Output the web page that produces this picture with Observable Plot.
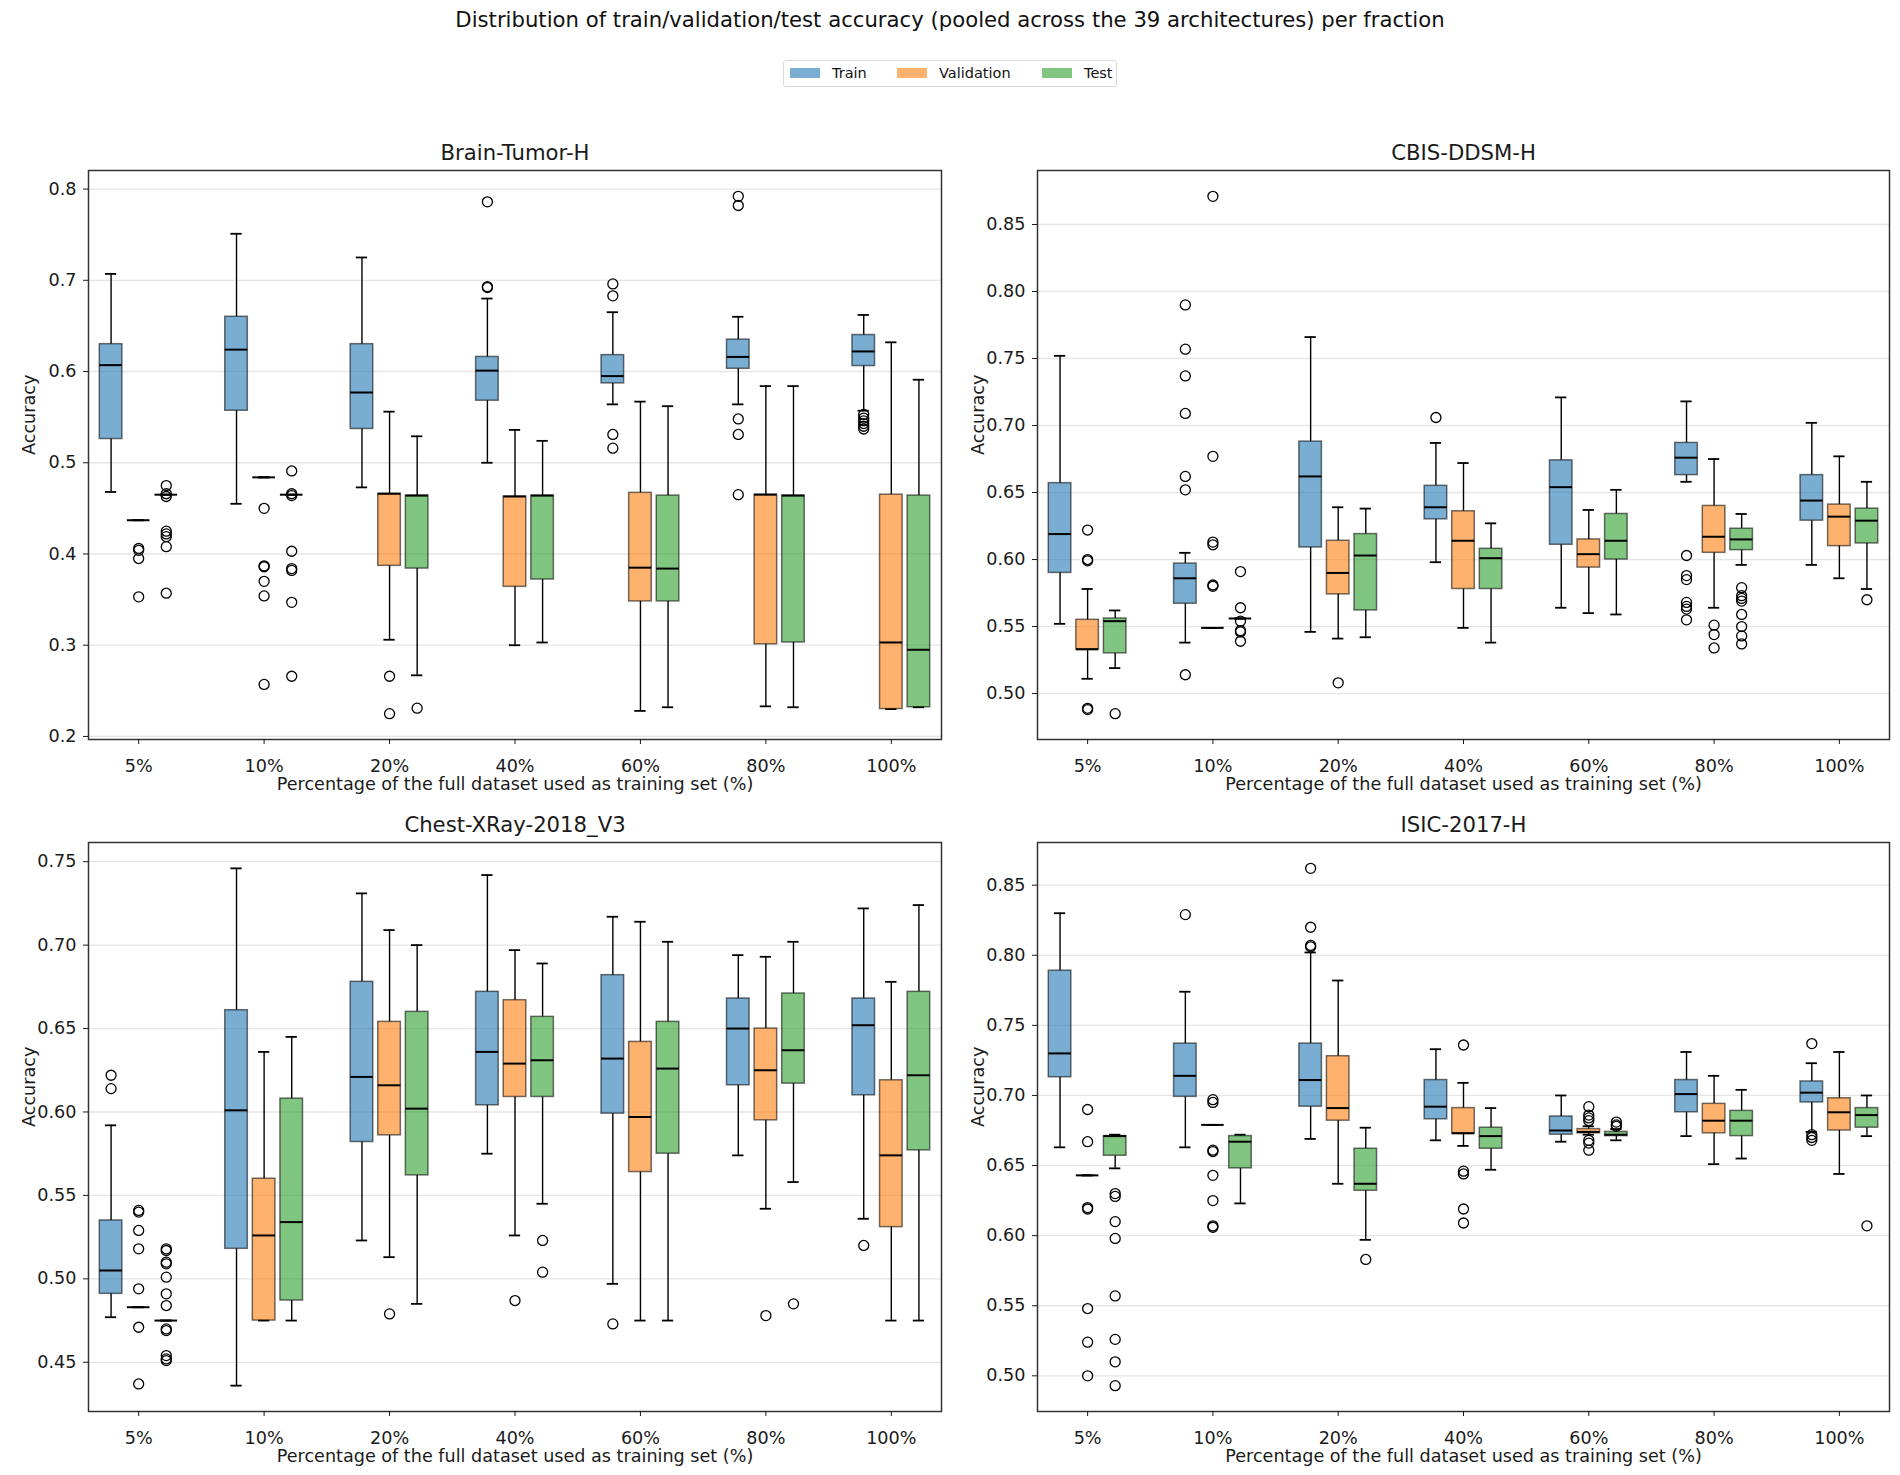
<!DOCTYPE html>
<html><head><meta charset="utf-8">
<script src="https://cdn.jsdelivr.net/npm/d3@7"></script>
<script src="https://cdn.jsdelivr.net/npm/@observablehq/plot@0.6"></script>
<style>
body{margin:0;background:#fff;font-family:"DejaVu Sans",sans-serif;color:#111;}
#root{position:relative;width:1900px;height:1475px;background:#fff;overflow:hidden;}
.panel{position:absolute;}
#title{position:absolute;left:0;width:1900px;top:7px;text-align:center;font-size:21.2px;line-height:26px;}
#legend{position:absolute;left:783px;top:60px;width:332px;height:25px;border:1.5px solid #d9d9d9;border-radius:3px;box-sizing:content-box;font-size:14.5px;}
#legend .it{position:absolute;top:0;height:25px;line-height:25px;}
#legend .sw{display:inline-block;width:30px;height:10px;vertical-align:middle;margin-right:12px;position:relative;top:-1px;}
</style></head><body>
<div id="root">
  <div id="title">Distribution of train/validation/test accuracy (pooled across the 39 architectures) per fraction</div>
  <div id="legend"></div>
</div>
<script>
// ---------- categories ----------
const fractions = ["5%", "10%", "20%", "40%", "60%", "80%", "100%"];
const splits = ["Train", "Validation", "Test"];
const splitColors = ["#1f77b4", "#ff7f0e", "#2ca02c"];
const datasets = ["Brain-Tumor-H", "CBIS-DDSM-H", "Chest-XRay-2018_V3", "ISIC-2017-H"];
const xLabel = "Percentage of the full dataset used as training set (%)";

// ---------- tick labels ----------
const brainTicks = [0.2, 0.3, 0.4, 0.5, 0.6, 0.7, 0.8];
const cbisTicks = [0.50, 0.55, 0.60, 0.65, 0.70, 0.75, 0.80, 0.85];
const chestTicks = [0.45, 0.50, 0.55, 0.60, 0.65, 0.70, 0.75];
const isicTicks = [0.50, 0.55, 0.60, 0.65, 0.70, 0.75, 0.80, 0.85];

// ---------- box stats per fraction: [whiskerLow, q1, median, q3, whiskerHigh] ----------
// Brain-Tumor-H
const brainTrain = [
  [0.468, 0.526, 0.607, 0.630, 0.707],
  [0.455, 0.557, 0.624, 0.660, 0.751],
  [0.473, 0.537, 0.577, 0.630, 0.725],
  [0.500, 0.568, 0.601, 0.616, 0.680],
  [0.564, 0.587, 0.595, 0.618, 0.665],
  [0.564, 0.603, 0.616, 0.635, 0.660],
  [0.557, 0.606, 0.622, 0.640, 0.662]
];
const brainVal = [
  [0.437, 0.437, 0.437, 0.437, 0.437],
  [0.484, 0.484, 0.484, 0.484, 0.484],
  [0.306, 0.387, 0.466, 0.466, 0.556],
  [0.300, 0.364, 0.463, 0.463, 0.536],
  [0.228, 0.348, 0.385, 0.467, 0.567],
  [0.233, 0.301, 0.465, 0.465, 0.584],
  [0.230, 0.230, 0.303, 0.465, 0.632]
];
const brainTest = [
  [0.465, 0.465, 0.465, 0.465, 0.465],
  [0.465, 0.465, 0.465, 0.465, 0.465],
  [0.267, 0.384, 0.464, 0.464, 0.529],
  [0.303, 0.372, 0.464, 0.464, 0.524],
  [0.232, 0.348, 0.384, 0.464, 0.562],
  [0.232, 0.303, 0.464, 0.464, 0.584],
  [0.232, 0.232, 0.295, 0.464, 0.591]
];
const brainTrainOut = [[], [], [], [0.786, 0.693, 0.692], [0.696, 0.683, 0.531, 0.516], [0.792, 0.782, 0.548, 0.531, 0.465], [0.553, 0.549, 0.546, 0.543, 0.540, 0.537]];
const brainValOut = [[0.406, 0.404, 0.395, 0.353], [0.450, 0.387, 0.386, 0.370, 0.354, 0.257], [0.266, 0.225], [], [], [], []];
const brainTestOut = [[0.475, 0.466, 0.463, 0.425, 0.422, 0.419, 0.408, 0.357], [0.491, 0.466, 0.464, 0.403, 0.384, 0.382, 0.347, 0.266], [0.231], [], [], [], []];

// CBIS-DDSM-H
const cbisTrain = [
  [0.552, 0.590, 0.619, 0.657, 0.752],
  [0.538, 0.567, 0.586, 0.597, 0.605],
  [0.546, 0.609, 0.662, 0.688, 0.766],
  [0.598, 0.630, 0.639, 0.655, 0.687],
  [0.564, 0.611, 0.654, 0.674, 0.721],
  [0.658, 0.663, 0.676, 0.687, 0.718],
  [0.596, 0.629, 0.644, 0.663, 0.702]
];
const cbisVal = [
  [0.511, 0.533, 0.533, 0.555, 0.578],
  [0.549, 0.549, 0.549, 0.549, 0.549],
  [0.541, 0.574, 0.590, 0.614, 0.639],
  [0.549, 0.578, 0.614, 0.636, 0.672],
  [0.560, 0.594, 0.604, 0.615, 0.637],
  [0.564, 0.605, 0.617, 0.640, 0.675],
  [0.586, 0.610, 0.632, 0.641, 0.677]
];
const cbisTest = [
  [0.519, 0.530, 0.554, 0.556, 0.562],
  [0.556, 0.556, 0.556, 0.556, 0.556],
  [0.542, 0.562, 0.603, 0.619, 0.638],
  [0.538, 0.578, 0.601, 0.608, 0.627],
  [0.559, 0.600, 0.614, 0.634, 0.652],
  [0.596, 0.607, 0.615, 0.623, 0.634],
  [0.578, 0.612, 0.629, 0.638, 0.658]
];
const cbisTrainOut = [[], [0.790, 0.757, 0.737, 0.709, 0.662, 0.652, 0.514], [], [0.706], [], [0.603, 0.588, 0.585, 0.568, 0.565, 0.563, 0.555], []];
const cbisValOut = [[0.622, 0.600, 0.599, 0.489, 0.488], [0.871, 0.677, 0.613, 0.611, 0.581, 0.580], [0.508], [], [], [0.551, 0.544, 0.534], []];
const cbisTestOut = [[0.485], [0.591, 0.564, 0.554, 0.547, 0.546, 0.539], [], [], [], [0.579, 0.573, 0.571, 0.569, 0.559, 0.550, 0.543, 0.537], [0.570]];

// Chest-XRay-2018_V3
const chestTrain = [
  [0.477, 0.491, 0.505, 0.535, 0.592],
  [0.436, 0.518, 0.601, 0.661, 0.746],
  [0.523, 0.582, 0.621, 0.678, 0.731],
  [0.575, 0.604, 0.636, 0.672, 0.742],
  [0.497, 0.599, 0.632, 0.682, 0.717],
  [0.574, 0.616, 0.650, 0.668, 0.694],
  [0.536, 0.610, 0.652, 0.668, 0.722]
];
const chestVal = [
  [0.483, 0.483, 0.483, 0.483, 0.483],
  [0.475, 0.475, 0.526, 0.560, 0.636],
  [0.513, 0.586, 0.616, 0.654, 0.709],
  [0.526, 0.609, 0.629, 0.667, 0.697],
  [0.475, 0.564, 0.597, 0.642, 0.714],
  [0.542, 0.595, 0.625, 0.650, 0.693],
  [0.475, 0.531, 0.574, 0.619, 0.678]
];
const chestTest = [
  [0.475, 0.475, 0.475, 0.475, 0.475],
  [0.475, 0.487, 0.534, 0.608, 0.645],
  [0.485, 0.562, 0.602, 0.660, 0.700],
  [0.545, 0.609, 0.631, 0.657, 0.689],
  [0.475, 0.575, 0.626, 0.654, 0.702],
  [0.558, 0.617, 0.637, 0.671, 0.702],
  [0.475, 0.577, 0.622, 0.672, 0.724]
];
const chestTrainOut = [[0.622, 0.614], [], [], [], [0.473], [], [0.520]];
const chestValOut = [[0.541, 0.540, 0.529, 0.518, 0.494, 0.471, 0.437], [], [0.479], [0.487], [], [0.478], []];
const chestTestOut = [[0.518, 0.517, 0.510, 0.509, 0.501, 0.491, 0.484, 0.470, 0.469, 0.454, 0.452, 0.451], [], [], [0.523, 0.504], [], [0.485], []];

// ISIC-2017-H
const isicTrain = [
  [0.663, 0.713, 0.730, 0.789, 0.830],
  [0.663, 0.699, 0.714, 0.737, 0.774],
  [0.669, 0.692, 0.711, 0.737, 0.802],
  [0.668, 0.683, 0.692, 0.711, 0.733],
  [0.667, 0.672, 0.675, 0.685, 0.700],
  [0.671, 0.688, 0.701, 0.711, 0.731],
  [0.674, 0.695, 0.702, 0.710, 0.723]
];
const isicVal = [
  [0.643, 0.643, 0.643, 0.643, 0.643],
  [0.679, 0.679, 0.679, 0.679, 0.679],
  [0.637, 0.682, 0.691, 0.728, 0.782],
  [0.664, 0.673, 0.673, 0.691, 0.709],
  [0.672, 0.673, 0.674, 0.676, 0.678],
  [0.651, 0.673, 0.682, 0.694, 0.714],
  [0.644, 0.675, 0.688, 0.698, 0.731]
];
const isicTest = [
  [0.648, 0.657, 0.671, 0.671, 0.672],
  [0.623, 0.648, 0.667, 0.671, 0.672],
  [0.597, 0.632, 0.637, 0.662, 0.677],
  [0.647, 0.662, 0.671, 0.677, 0.691],
  [0.668, 0.671, 0.672, 0.674, 0.676],
  [0.655, 0.671, 0.682, 0.689, 0.704],
  [0.671, 0.677, 0.686, 0.691, 0.700]
];
const isicTrainOut = [[], [0.829], [0.862, 0.820, 0.807, 0.806], [], [], [], [0.737, 0.672, 0.670, 0.668]];
const isicValOut = [[0.690, 0.667, 0.620, 0.619, 0.548, 0.524, 0.500], [0.697, 0.695, 0.661, 0.660, 0.643, 0.625, 0.607, 0.606], [], [0.736, 0.646, 0.644, 0.619, 0.609], [0.692, 0.686, 0.684, 0.682, 0.668, 0.666, 0.661], [], []];
const isicTestOut = [[0.630, 0.628, 0.610, 0.598, 0.557, 0.526, 0.510, 0.493], [], [0.583], [], [0.681, 0.679, 0.678], [], [0.607]];

// ---------- layout / style ----------
const OFFSETS = [-0.22, 0, 0.22];
const BOXW = 0.18;
const CAPW = 0.09;
const FONT = "DejaVu Sans, sans-serif";
const FS = 17.6;

function makePanel(name, stats, outs, yTicks, yFmt, left, top, mLeft, mRight) {
  const rows = [];
  const outRows = [];
  stats.forEach((arr, s) => arr.forEach((v, i) => {
    rows.push({s, split: splits[s], i, xc: i + OFFSETS[s], lo: v[0], q1: v[1], med: v[2], q3: v[3], hi: v[4]});
  }));
  outs.forEach((arr, s) => arr.forEach((vals, i) => vals.forEach(v => {
    outRows.push({s, i, xc: i + OFFSETS[s], v});
  })));
  const all = rows.flatMap(r => [r.lo, r.hi]).concat(outRows.map(o => o.v));
  const [mn, mx] = d3.extent(all);
  const pad = (mx - mn) * 0.05;
  const chart = Plot.plot({
    width: 950, height: 670,
    marginTop: 40, marginBottom: 61, marginLeft: mLeft, marginRight: mRight,
    x: {domain: [-0.4, 6.4], axis: null},
    y: {domain: [mn - pad, mx + pad], axis: null},
    color: {domain: splits, range: splitColors},
    style: {fontFamily: FONT, fontSize: FS + "px", color: "#1a1a1a", background: "white", overflow: "visible"},
    marks: [
      Plot.gridY(yTicks, {stroke: "#e6e6e6", strokeOpacity: 1, strokeWidth: 1.3}),
      Plot.ruleX(rows, {x: "xc", y1: "lo", y2: "q1", stroke: "black", strokeWidth: 1.4}),
      Plot.ruleX(rows, {x: "xc", y1: "q3", y2: "hi", stroke: "black", strokeWidth: 1.4}),
      Plot.ruleY(rows, {y: "lo", x1: d => d.xc - CAPW / 2, x2: d => d.xc + CAPW / 2, stroke: "black", strokeWidth: 1.8}),
      Plot.ruleY(rows, {y: "hi", x1: d => d.xc - CAPW / 2, x2: d => d.xc + CAPW / 2, stroke: "black", strokeWidth: 1.8}),
      Plot.rect(rows, {x1: d => d.xc - BOXW / 2, x2: d => d.xc + BOXW / 2, y1: "q1", y2: "q3",
        fill: "split", fillOpacity: 0.6, stroke: "black", strokeOpacity: 0.55, strokeWidth: 1.5}),
      Plot.ruleY(rows, {y: "med", x1: d => d.xc - BOXW / 2, x2: d => d.xc + BOXW / 2, stroke: "black", strokeWidth: 2}),
      Plot.dot(outRows, {x: "xc", y: "v", r: 5, stroke: "black", fill: "none", strokeWidth: 1.3}),
      Plot.frame({stroke: "#333", strokeWidth: 1.5}),
      Plot.axisX({ticks: d3.range(fractions.length), tickFormat: i => fractions[i], tickSize: 5, tickPadding: 15, label: null, fontSize: FS}),
      Plot.axisY({ticks: yTicks, tickFormat: d3.format(yFmt), tickSize: 5, tickPadding: 7, label: null, fontSize: FS}),
      Plot.text([xLabel], {frameAnchor: "bottom", dy: 45, lineAnchor: "middle", fontSize: FS}),
      Plot.text(["Accuracy"], {frameAnchor: "left", dx: -59, rotate: -90, lineAnchor: "middle", fontSize: FS}),
      Plot.text([name], {frameAnchor: "top", dy: -17, lineAnchor: "middle", fontSize: 21.2})
    ]
  });
  const div = document.createElement("div");
  div.className = "panel";
  div.style.left = left + "px";
  div.style.top = top + "px";
  div.appendChild(chart);
  document.getElementById("root").appendChild(div);
}

makePanel(datasets[0], [brainTrain, brainVal, brainTest], [brainTrainOut, brainValOut, brainTestOut], brainTicks, ".1f", 0, 130, 88, 9);
makePanel(datasets[1], [cbisTrain, cbisVal, cbisTest], [cbisTrainOut, cbisValOut, cbisTestOut], cbisTicks, ".2f", 950, 130, 87, 11);
makePanel(datasets[2], [chestTrain, chestVal, chestTest], [chestTrainOut, chestValOut, chestTestOut], chestTicks, ".2f", 0, 802, 88, 9);
makePanel(datasets[3], [isicTrain, isicVal, isicTest], [isicTrainOut, isicValOut, isicTestOut], isicTicks, ".2f", 950, 802, 87, 11);

// legend
const legendSwatch = ["#79add2", "#ffb26e", "#80c680"];
const legendX = [6, 113, 258];
const lg = document.getElementById("legend");
splits.forEach((s, k) => {
  const it = document.createElement("div");
  it.className = "it";
  it.style.left = legendX[k] + "px";
  const sw = document.createElement("span");
  sw.className = "sw";
  sw.style.background = legendSwatch[k];
  it.appendChild(sw);
  it.appendChild(document.createTextNode(s));
  lg.appendChild(it);
});
</script>
</body></html>
